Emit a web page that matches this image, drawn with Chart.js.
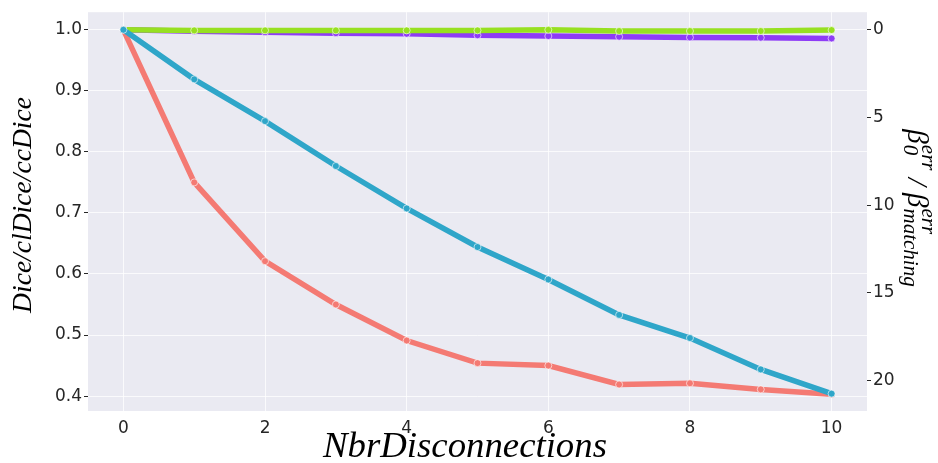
<!DOCTYPE html>
<html>
<head>
<meta charset="utf-8">
<script src="https://cdn.jsdelivr.net/npm/chart.js@4/dist/chart.umd.min.js"></script>
<style>
  body { margin: 0; background: #ffffff; }
  canvas { display: block; }
</style>
</head>
<body>
<canvas id="grafico" width="938" height="463"></canvas>
<script>
// dados
const nbrDisconnections = [0, 1, 2, 3, 4, 5, 6, 7, 8, 9, 10];
const diceVals   = [1.0, 0.999, 0.999, 0.999, 0.999, 0.999, 1.0, 0.998, 0.998, 0.998, 0.9995];
const clDiceVals = [1.0, 0.9975, 0.996, 0.9945, 0.9935, 0.991, 0.9897, 0.9886, 0.9875, 0.987, 0.9858];
const ccDiceVals = [1.0, 0.75, 0.621, 0.55, 0.491, 0.454, 0.45, 0.419, 0.421, 0.411, 0.403];
const bettiErr   = [0, 2.83, 5.21, 7.77, 10.19, 12.39, 14.24, 16.26, 17.58, 19.37, 20.75];

const xTicks = [0, 2, 4, 6, 8, 10];
const leftTicks = [0.4, 0.5, 0.6, 0.7, 0.8, 0.9, 1.0];
const rightTicks = [0, 5, 10, 15, 20];

const corTexto = '#262626';
const fonteTicks = { family: 'DejaVu Sans', size: 17 };

function pares(ys) {
    return nbrDisconnections.map((x, i) => ({ x: x, y: ys[i] }));
}

function serie(label, ys, cor, eixo, ordem) {
    return {
        label: label,
        data: pares(ys),
        yAxisID: eixo,
        borderColor: cor,
        backgroundColor: cor,
        borderWidth: 5.5,
        pointRadius: 3.5,
        pointBorderColor: 'rgba(255,255,255,0.6)',
        pointBorderWidth: 1,
        pointBackgroundColor: cor,
        order: ordem,
        tension: 0
    };
}

// ajusta o tamanho da fonte para caber numa largura
function fonteAjustada(ctx, texto, largura, familia) {
    ctx.font = 'italic 100px ' + familia;
    const w = ctx.measureText(texto).width;
    return 100 * largura / w;
}

const fundoPlugin = {
    id: 'fundo',
    beforeDraw(chart) {
        const { ctx, chartArea } = chart;
        ctx.save();
        ctx.fillStyle = '#eaeaf2';
        ctx.fillRect(chartArea.left, chartArea.top, chartArea.right - chartArea.left, chartArea.bottom - chartArea.top);
        ctx.restore();
    }
};

const titulosPlugin = {
    id: 'titulos',
    afterDraw(chart) {
        const ctx = chart.ctx;
        const serif = '"Liberation Serif"';
        ctx.save();
        ctx.fillStyle = '#000000';

        // titulo eixo x
        const tx = 'NbrDisconnections';
        let tam = fonteAjustada(ctx, tx, 284, serif);
        ctx.font = 'italic ' + tam + 'px ' + serif;
        ctx.textAlign = 'center';
        ctx.textBaseline = 'alphabetic';
        ctx.fillText(tx, 465, 457);

        // titulo eixo esquerdo
        const ty = 'Dice/clDice/ccDice';
        tam = fonteAjustada(ctx, ty, 216, serif);
        ctx.save();
        ctx.translate(31, 205);
        ctx.rotate(-Math.PI / 2);
        ctx.font = 'italic ' + tam + 'px ' + serif;
        ctx.fillText(ty, 0, 0);
        ctx.restore();

        // titulo eixo direito (beta com indices)
        const partes = [
            { t: 'β', sup: 'err', sub: '0' },
            { t: ' / ' },
            { t: 'β', sup: 'err', sub: 'matching' }
        ];
        const fPrin = 'italic 29px ' + serif;
        const fInd = 'italic 21px ' + serif;
        let total = 0;
        partes.forEach(p => {
            ctx.font = fPrin;
            p.w = ctx.measureText(p.t).width;
            ctx.font = fInd;
            p.wi = Math.max(p.sup ? ctx.measureText(p.sup).width : 0, p.sub ? ctx.measureText(p.sub).width : 0);
            total += p.w + p.wi + (p.wi ? 1 : 0);
        });
        ctx.save();
        ctx.translate(908, 208);
        ctx.rotate(Math.PI / 2);
        ctx.textAlign = 'left';
        let cx = -total / 2;
        partes.forEach(p => {
            ctx.font = fPrin;
            ctx.fillText(p.t, cx, 0);
            cx += p.w;
            if (p.wi) {
                ctx.font = fInd;
                if (p.sup) ctx.fillText(p.sup, cx + 1, -14);
                if (p.sub) ctx.fillText(p.sub, cx + 1, 4);
                cx += p.wi + 1;
            }
        });
        ctx.restore();
        ctx.restore();
    }
};

function fixarTicks(lista) {
    return function (scale) {
        scale.ticks = lista.map(v => ({ value: v }));
    };
}

new Chart(document.getElementById('grafico'), {
    type: 'line',
    data: {
        datasets: [
            serie('Betti error', bettiErr, '#2fa6c9', 'yR', 1),
            serie('ccDice', ccDiceVals, '#f47a73', 'yL', 2),
            serie('Dice', diceVals, '#97e021', 'yL', 3),
            serie('clDice', clDiceVals, '#8e3cf6', 'yL', 4)
        ]
    },
    options: {
        responsive: false,
        animation: false,
        layout: { padding: { top: 9, left: 0, right: 0, bottom: 0 } },
        plugins: {
            legend: { display: false },
            tooltip: { enabled: false }
        },
        scales: {
            x: {
                type: 'linear',
                min: -0.5,
                max: 10.5,
                afterBuildTicks: fixarTicks(xTicks),
                afterFit(scale) { scale.height = 52; },
                border: { display: false },
                grid: { color: 'rgba(255,255,255,0.75)', lineWidth: 1, drawTicks: false },
                ticks: { color: corTexto, font: fonteTicks, padding: 7, maxRotation: 0 }
            },
            yL: {
                type: 'linear',
                position: 'left',
                min: 0.3756,
                max: 1.0288,
                afterBuildTicks: fixarTicks(leftTicks),
                afterFit(scale) { scale.width = 88; },
                border: { display: false },
                grid: { color: 'rgba(255,255,255,0.75)', lineWidth: 1, tickColor: corTexto, tickLength: 4, tickWidth: 1 },
                ticks: { color: corTexto, font: fonteTicks, padding: 2, callback: v => v.toFixed(1) }
            },
            yR: {
                type: 'linear',
                position: 'right',
                reverse: true,
                min: -1.0,
                max: 21.74,
                afterBuildTicks: fixarTicks(rightTicks),
                afterFit(scale) { scale.width = 71; },
                border: { display: false },
                grid: { drawOnChartArea: false, tickColor: corTexto, tickLength: 4, tickWidth: 1 },
                ticks: { color: corTexto, font: fonteTicks, padding: 2 }
            }
        }
    },
    plugins: [fundoPlugin, titulosPlugin]
});
</script>
</body>
</html>
